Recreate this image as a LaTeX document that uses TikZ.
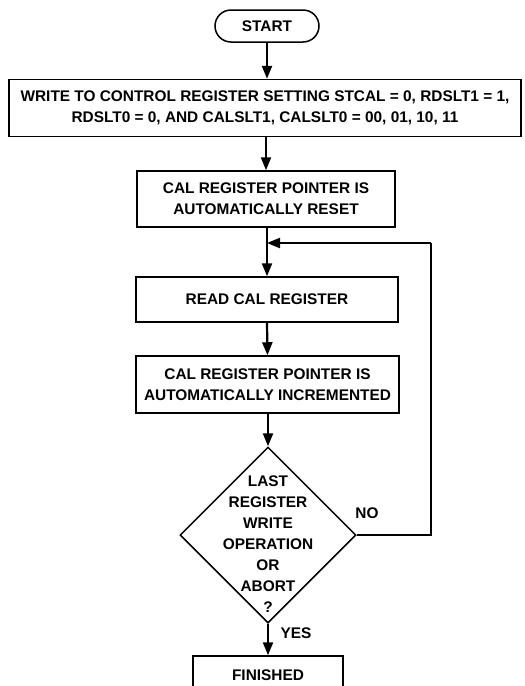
\documentclass[tikz,border=0pt]{standalone}
\usepackage{fontspec}
\setmainfont{Liberation Sans}
\usetikzlibrary{arrows.meta,shapes.geometric}
\begin{document}
\begin{tikzpicture}[x=1pt,y=-1pt,
  every node/.style={font=\fontsize{15.4}{21}\selectfont\bfseries, align=center, inner sep=0pt},
  procbox/.style={draw, line width=1.5pt, rectangle},
  termbox/.style={draw, line width=1.5pt, rectangle, rounded corners=16pt},
  decbox/.style={draw, line width=1.5pt, diamond, minimum width=176pt, minimum height=176pt},
  flow/.style={line width=2.2pt, -{Triangle[length=13pt,width=10pt]}},
  plain/.style={line width=2.2pt}]
\useasboundingbox (0,0) rectangle (525,686);
\node[termbox, minimum width=104pt, minimum height=32pt] (start) at (267,26) {START};
\node[procbox, minimum width=512pt, minimum height=57pt] (write) at (265,108)
  {WRITE TO CONTROL REGISTER SETTING STCAL = 0, RDSLT1 = 1,\\RDSLT0 = 0, AND CALSLT1, CALSLT0 = 00, 01, 10, 11};
\node[procbox, minimum width=258pt, minimum height=56pt] (reset) at (266,199)
  {CAL REGISTER POINTER IS\\AUTOMATICALLY RESET};
\node[procbox, minimum width=262pt, minimum height=45pt] (read) at (267,299.5) {READ CAL REGISTER};
\node[procbox, minimum width=263pt, minimum height=57pt] (incr) at (267.5,384.5)
  {CAL REGISTER POINTER IS\\AUTOMATICALLY INCREMENTED};
\node[decbox] (dec) at (268,535) {};
\node (dectext) at (268,544.5) {LAST\\REGISTER\\WRITE\\OPERATION\\OR\\ABORT\\?};
\node[procbox, minimum width=150pt, minimum height=38pt] (fin) at (268,675) {FINISHED};
\node (no) at (367,513) {NO};
\node (yes) at (296,633) {YES};
\coordinate (join) at (267,243);
\coordinate (loopr) at (431,535);
\coordinate (loopt) at (431,243);
\draw[flow] (start.south) -- (start.south |- write.north);
\draw[flow] (write.south -| reset.north) -- (reset.north);
\draw[flow] (reset.south -| read.north) -- (read.north);
\draw[flow] (read.south) -- (incr.south |- incr.north);
\draw[flow] (incr.south -| dec.north) -- (dec.north);
\draw[flow] (dec.south) -- (dec.south |- fin.north);
\draw[plain] (dec.east) -- (loopr) -- (loopt);
\draw[flow] (loopt) -- (join);
\end{tikzpicture}
\end{document}
